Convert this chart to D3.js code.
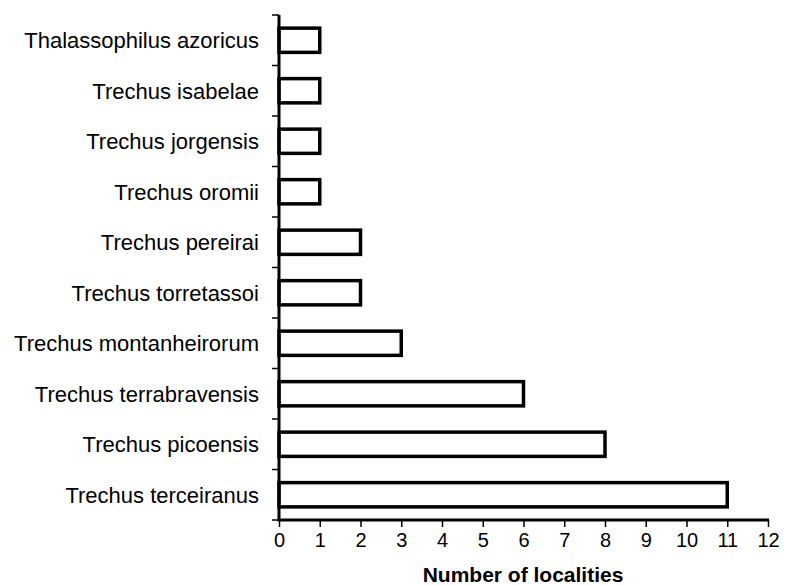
<!DOCTYPE html>
<html>
<head>
<meta charset="UTF-8">
<style>
  body { margin: 0; background: #fff; }
  text { font-family: "Liberation Sans", Arial, sans-serif; fill: #000; }
</style>
</head>
<body>
<svg id="chart" width="785" height="585"></svg>
<script src="https://cdnjs.cloudflare.com/ajax/libs/d3/7.8.5/d3.min.js"></script>
<script>
// data, top to bottom
const species = [
  'Thalassophilus azoricus',
  'Trechus isabelae',
  'Trechus jorgensis',
  'Trechus oromii',
  'Trechus pereirai',
  'Trechus torretassoi',
  'Trechus montanheirorum',
  'Trechus terrabravensis',
  'Trechus picoensis',
  'Trechus terceiranus'
];
const localities = [1, 1, 1, 1, 2, 2, 3, 6, 8, 11];
const xTicks = [0, 1, 2, 3, 4, 5, 6, 7, 8, 9, 10, 11, 12];
const xTitle = 'Number of localities';

var svg = d3.select('#chart');
var plotLeft = 279, plotRight = 768, plotTop = 15, plotBottom = 520;

var x = d3.scaleLinear().domain([0, 12]).range([plotLeft, plotRight]);
var y = d3.scaleBand().domain(species).range([plotTop, plotBottom]).paddingInner(0.52).paddingOuter(0.26);

// bars
svg.selectAll('rect.bar')
  .data(species)
  .enter()
  .append('rect')
  .attr('class', 'bar')
  .attr('x', x(0))
  .attr('y', function (d) { return y(d); })
  .attr('width', function (d, i) { return x(localities[i]) - x(0); })
  .attr('height', y.bandwidth())
  .attr('fill', '#fff')
  .attr('stroke', '#000')
  .attr('stroke-width', 3.5);

// y axis: line + ticks between categories
var step = (plotBottom - plotTop) / species.length;
svg.append('line')
  .attr('x1', plotLeft).attr('x2', plotLeft)
  .attr('y1', plotTop).attr('y2', plotBottom)
  .attr('stroke', '#000').attr('stroke-width', 3);
svg.selectAll('line.ytick')
  .data(d3.range(species.length + 1))
  .enter()
  .append('line')
  .attr('class', 'ytick')
  .attr('x1', plotLeft - 7).attr('x2', plotLeft)
  .attr('y1', function (i) { return plotTop + i * step; })
  .attr('y2', function (i) { return plotTop + i * step; })
  .attr('stroke', '#000').attr('stroke-width', 1.5);

svg.selectAll('text.ylab')
  .data(species)
  .enter()
  .append('text')
  .attr('class', 'ylab')
  .attr('x', plotLeft - 20)
  .attr('y', function (d) { return y(d) + y.bandwidth() / 2; })
  .attr('dy', '0.36em')
  .attr('text-anchor', 'end')
  .style('font-size', '22px')
  .text(function (d) { return d; });

// x axis
var xAxis = svg.append('g')
  .attr('transform', 'translate(0,' + plotBottom + ')')
  .call(d3.axisBottom(x).tickValues(xTicks).tickSize(7).tickPadding(6).tickFormat(d3.format('d')));
xAxis.select('.domain').attr('stroke-width', 3).attr('d', 'M' + (plotLeft - 1.5) + ',0H' + (plotRight + 1));
xAxis.selectAll('.tick line').attr('stroke-width', 1.5);
xAxis.selectAll('.tick text')
  .style('font-size', '20px')
  .style('font-family', '"Liberation Sans", Arial, sans-serif');

svg.append('text')
  .attr('x', 523)
  .attr('y', 582)
  .attr('text-anchor', 'middle')
  .style('font-size', '21px')
  .style('font-weight', 'bold')
  .text(xTitle);
</script>
</body>
</html>
